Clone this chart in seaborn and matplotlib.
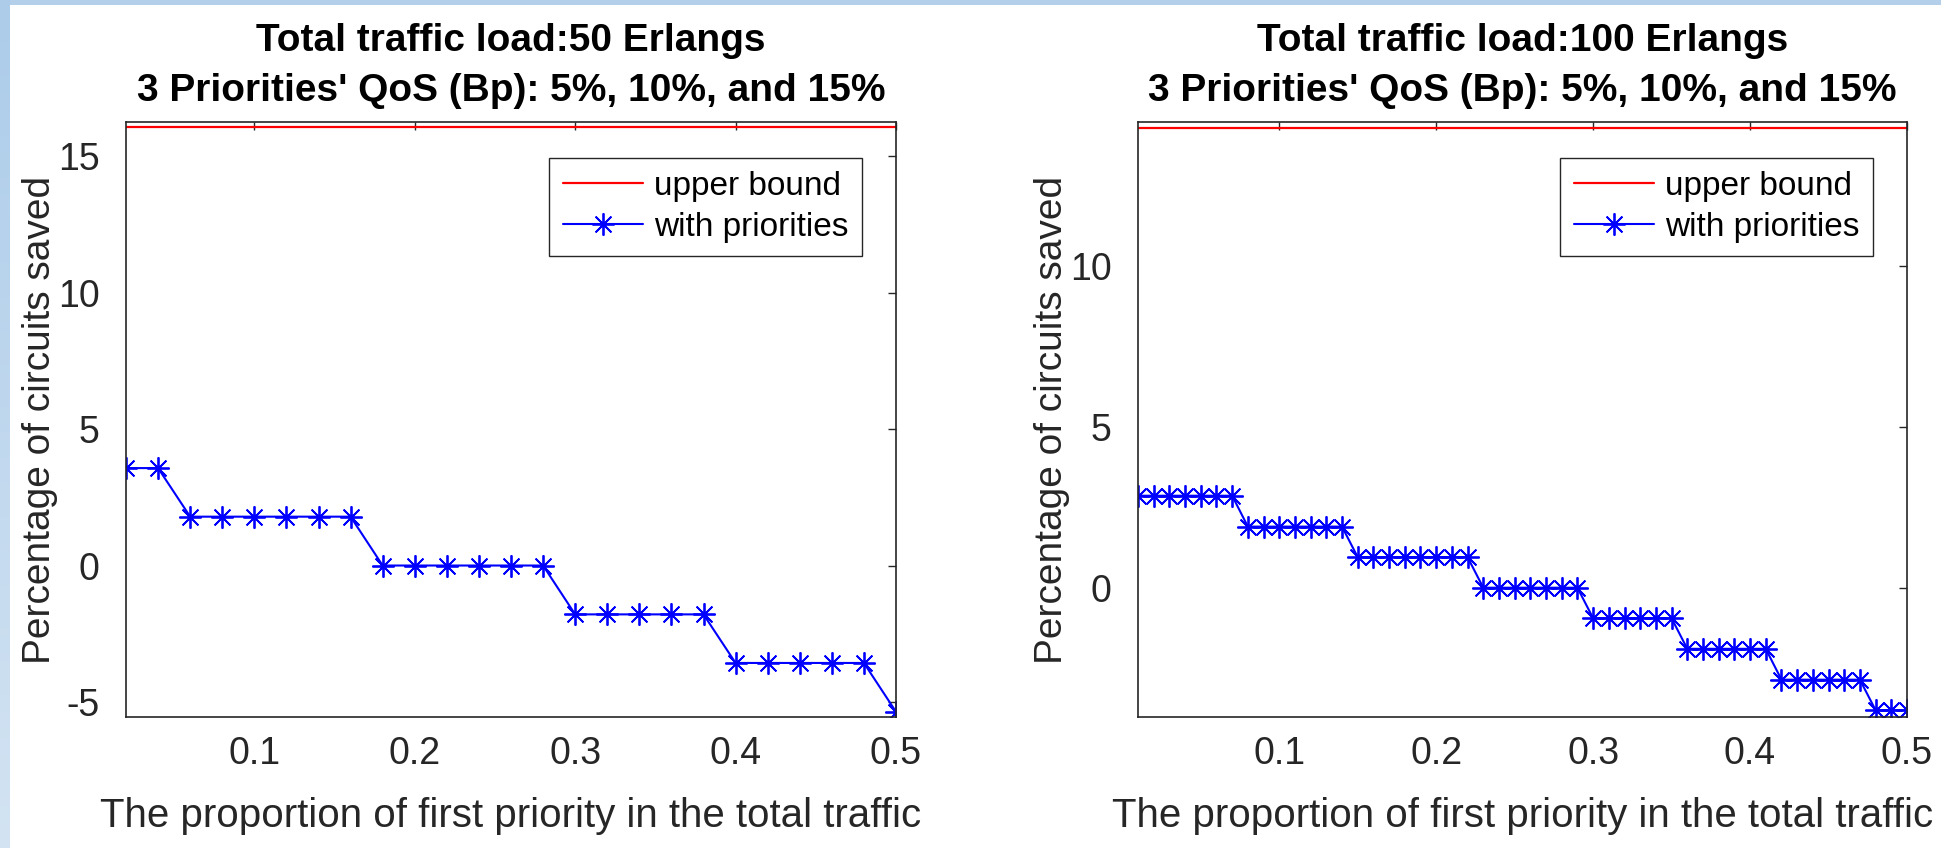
import numpy as np
import seaborn as sns
import matplotlib.pyplot as plt

# left panel: 50 Erlangs
x_50 = [0.02, 0.04, 0.06, 0.08, 0.10, 0.12, 0.14, 0.16, 0.18, 0.20,
        0.22, 0.24, 0.26, 0.28, 0.30, 0.32, 0.34, 0.36, 0.38, 0.40,
        0.42, 0.44, 0.46, 0.48, 0.50]
saved_50 = [3.57, 3.57, 1.79, 1.79, 1.79, 1.79, 1.79, 1.79, 0.0, 0.0,
            0.0, 0.0, 0.0, 0.0, -1.79, -1.79, -1.79, -1.79, -1.79, -3.57,
            -3.57, -3.57, -3.57, -3.57, -5.36]
upper_50 = 16.07

# right panel: 100 Erlangs
x_100 = [0.01, 0.02, 0.03, 0.04, 0.05, 0.06, 0.07, 0.08, 0.09, 0.10,
         0.11, 0.12, 0.13, 0.14, 0.15, 0.16, 0.17, 0.18, 0.19, 0.20,
         0.21, 0.22, 0.23, 0.24, 0.25, 0.26, 0.27, 0.28, 0.29, 0.30,
         0.31, 0.32, 0.33, 0.34, 0.35, 0.36, 0.37, 0.38, 0.39, 0.40,
         0.41, 0.42, 0.43, 0.44, 0.45, 0.46, 0.47, 0.48, 0.49, 0.50]
saved_100 = [2.86, 2.86, 2.86, 2.86, 2.86, 2.86, 2.86,
             1.90, 1.90, 1.90, 1.90, 1.90, 1.90, 1.90,
             0.95, 0.95, 0.95, 0.95, 0.95, 0.95, 0.95, 0.95,
             0.0, 0.0, 0.0, 0.0, 0.0, 0.0, 0.0,
             -0.95, -0.95, -0.95, -0.95, -0.95, -0.95,
             -1.90, -1.90, -1.90, -1.90, -1.90, -1.90,
             -2.86, -2.86, -2.86, -2.86, -2.86, -2.86,
             -3.81, -3.81, -3.81]
upper_100 = 14.29

titles = ["Total traffic load:50 Erlangs\n3 Priorities' QoS (Bp): 5%, 10%, and 15%",
          "Total traffic load:100 Erlangs\n3 Priorities' QoS (Bp): 5%, 10%, and 15%"]
xlabel = "The proportion of first priority in the total traffic"
ylabel = "Percentage of circuits saved"
xticks = [0.1, 0.2, 0.3, 0.4, 0.5]

sns.set_style("white")
plt.rcParams['font.family'] = ['Liberation Sans', 'DejaVu Sans']
dark = '#262626'
plt.rcParams.update({
    'xtick.direction': 'in', 'ytick.direction': 'in',
    'xtick.top': True, 'ytick.right': True,
    'xtick.major.size': 6, 'ytick.major.size': 6,
    'xtick.major.width': 1.0, 'ytick.major.width': 1.0,
    'xtick.color': dark, 'ytick.color': dark,
    'axes.edgecolor': dark, 'axes.linewidth': 1.2,
    'axes.unicode_minus': False,
    'text.color': 'black', 'axes.labelcolor': dark,
})

W, H = 1941, 848
fig = plt.figure(figsize=(W / 100, H / 100), dpi=100)

# light blue frame of the slide (top band and left gradient strip)
top = fig.add_axes([0, 1 - 5 / H, 1, 5 / H])
top.set_axis_off()
top.add_patch(plt.Rectangle((0, 0), 1, 1, color='#b3cfe9', transform=top.transAxes))
side = fig.add_axes([0, 0, 10 / W, 1])
grad = np.linspace(0, 1, 100).reshape(-1, 1)
side.imshow(grad, aspect='auto', cmap=sns.blend_palette(['#acccea', '#d3e3f2'], as_cmap=True))
side.set_axis_off()

panels = [
    (x_50, saved_50, upper_50, (126, 896), (-5.55, 16.25), [-5, 0, 5, 10, 15]),
    (x_100, saved_100, upper_100, (1138, 1907), (-4.02, 14.48), [0, 5, 10]),
]

for (xs, ys, ub, (px0, px1), ylim, yticks), title in zip(panels, titles):
    ax = fig.add_axes([px0 / W, (H - 717) / H, (px1 - px0) / W, 595 / H])
    ax.axhline(ub, color='#ff0000', lw=1.6, label='upper bound')
    sns.lineplot(x=xs, y=ys, ax=ax, color='#0000ff', lw=1.5,
                 marker=(8, 2, 0), markersize=16, markeredgewidth=1.3,
                 markeredgecolor='#0000ff', label='with priorities')
    ax.set_xlim(xs[0], xs[-1])
    ax.set_ylim(*ylim)
    ax.set_xticks(xticks)
    ax.set_xticklabels([f"{t:.1f}" for t in xticks])
    ax.set_yticks(yticks)
    ax.tick_params(axis='x', labelsize=27, pad=14)
    ax.tick_params(axis='y', labelsize=27, pad=19)
    for s in ax.spines.values():
        s.set_visible(True)
    ax.set_title(title, fontsize=28, fontweight='bold', linespacing=1.5, pad=15)
    ax.set_xlabel(xlabel, fontsize=29, labelpad=18)
    ax.set_ylabel(ylabel, fontsize=28, labelpad=0)
    leg = ax.legend(loc='upper right', bbox_to_anchor=(0.956, 0.94), borderaxespad=0,
                    fontsize=24, handlelength=2.4, handletextpad=0.35,
                    fancybox=False, framealpha=1, borderpad=0.4, labelspacing=0.3)
    leg.get_frame().set_edgecolor(dark)
    leg.get_frame().set_linewidth(1.0)

fig.savefig('out.png', dpi=100, facecolor='white')
